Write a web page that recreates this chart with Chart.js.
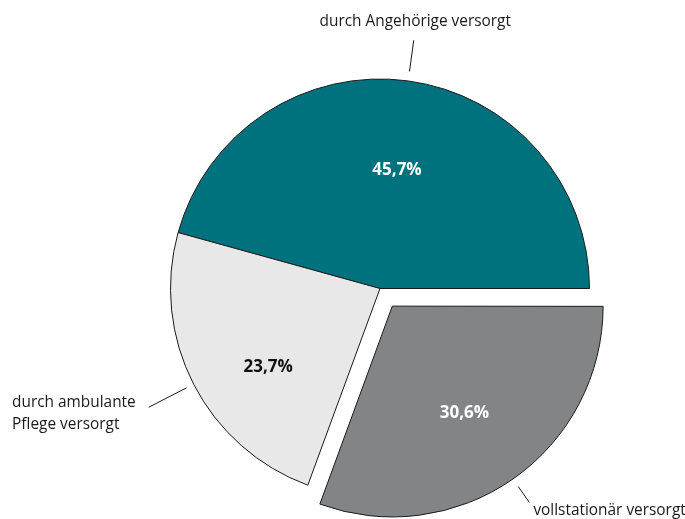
<!DOCTYPE html>
<html>
<head>
<meta charset="utf-8">
<script src="https://cdn.jsdelivr.net/npm/chart.js@4.4.1/dist/chart.umd.min.js"></script>
<style>
  html, body { margin: 0; padding: 0; background: #ffffff; }
  #wrap { width: 685px; height: 519px; position: relative; }
</style>
</head>
<body>
<div id="wrap"><canvas id="c" width="685" height="519"></canvas></div>
<script>
// ---- data ----
const categories = ['durch Angehörige versorgt', 'vollstationär versorgt', 'durch ambulante Pflege versorgt'];
const outerLabels = [['durch Angehörige versorgt'], ['vollstationär versorgt'], ['durch ambulante', 'Pflege versorgt']];
const shares = [45.7, 30.6, 23.7];

// ---- styles ----
const sliceColors = ['#00727e', '#838486', '#e8e8e8'];
const innerTextColors = ['#ffffff', '#ffffff', '#111111'];
const sliceOffsets = [0, 86, 0];
const FONT = '"Open Sans", "Noto Sans", sans-serif';

// placement of labels relative to each slice (angle shift in degrees, radius fraction)
const innerPlace = [{shift: 0.4, frac: 0.574}, {shift: 0.7, frac: 0.612}, {shift: -7.5, frac: 0.649}];
const leaderPlace = [{from: 9.5, to: 41}, {from: 10.5, to: 30}, {from: 8, to: 50.5}];

const total = shares.reduce((a, b) => a + b, 0);
const startRotation = 90 - shares[0] / total * 360;

const labelPlugin = {
  id: 'pieLabels',
  afterDatasetsDraw(chart) {
    const ctx = chart.ctx;
    const meta = chart.getDatasetMeta(0);
    const ds = chart.data.datasets[0];
    meta.data.forEach((arc, i) => {
      const p = arc.getProps(['x', 'y', 'startAngle', 'endAngle', 'outerRadius'], true);
      const mid = (p.startAngle + p.endAngle) / 2;
      const off = (ds.offset[i] || 0) / 4;
      const cx = p.x + Math.cos(mid) * off;
      const cy = p.y + Math.sin(mid) * off;
      const r = p.outerRadius;

      // inner percentage label
      const ip = innerPlace[i];
      const a = mid + ip.shift * Math.PI / 180;
      const lx = cx + Math.cos(a) * r * ip.frac;
      const ly = cy + Math.sin(a) * r * ip.frac;
      const fs = 17;
      ctx.save();
      ctx.font = 'bold ' + fs + 'px ' + FONT;
      ctx.fillStyle = innerTextColors[i];
      ctx.textAlign = 'center';
      ctx.textBaseline = 'alphabetic';
      const txt = ds.data[i].toFixed(1).replace('.', ',') + '%';
      ctx.fillText(txt, lx, ly + fs * 0.35);
      ctx.restore();

      // leader line
      const lp = leaderPlace[i];
      const x1 = cx + Math.cos(mid) * (r + lp.from);
      const y1 = cy + Math.sin(mid) * (r + lp.from);
      const x2 = cx + Math.cos(mid) * (r + lp.to);
      const y2 = cy + Math.sin(mid) * (r + lp.to);
      ctx.save();
      ctx.strokeStyle = '#1a1a1a';
      ctx.lineWidth = 1;
      ctx.beginPath();
      ctx.moveTo(x1, y1);
      ctx.lineTo(x2, y2);
      ctx.stroke();

      // outer text
      ctx.font = '15.4px ' + FONT;
      ctx.fillStyle = '#1a1a1a';
      ctx.textBaseline = 'alphabetic';
      const lines = outerLabels[i];
      if (i === 0) {
        ctx.textAlign = 'center';
        ctx.fillText(lines[0], x2 + 1.5, y2 - 14.5);
      } else if (i === 1) {
        ctx.textAlign = 'left';
        ctx.fillText(lines[0], x2 + 4, y2 + 12);
      } else {
        ctx.textAlign = 'left';
        const left = x2 - 13 - ctx.measureText(lines[0]).width;
        lines.forEach((l, k) => ctx.fillText(l, left, y2 + k * 21.5));
      }
      ctx.restore();
    });
  }
};

new Chart(document.getElementById('c'), {
  type: 'pie',
  data: {
    labels: categories,
    datasets: [{
      data: shares,
      backgroundColor: sliceColors,
      borderColor: '#1a1a1a',
      borderWidth: 1,
      offset: sliceOffsets,
      radius: 209.5,
      hoverOffset: 0
    }]
  },
  options: {
    responsive: false,
    animation: false,
    rotation: startRotation,
    layout: { padding: { left: 75, top: 58, right: 0, bottom: 0 } },
    plugins: {
      legend: { display: false },
      tooltip: { enabled: false }
    },
    events: []
  },
  plugins: [labelPlugin]
});
</script>
</body>
</html>
